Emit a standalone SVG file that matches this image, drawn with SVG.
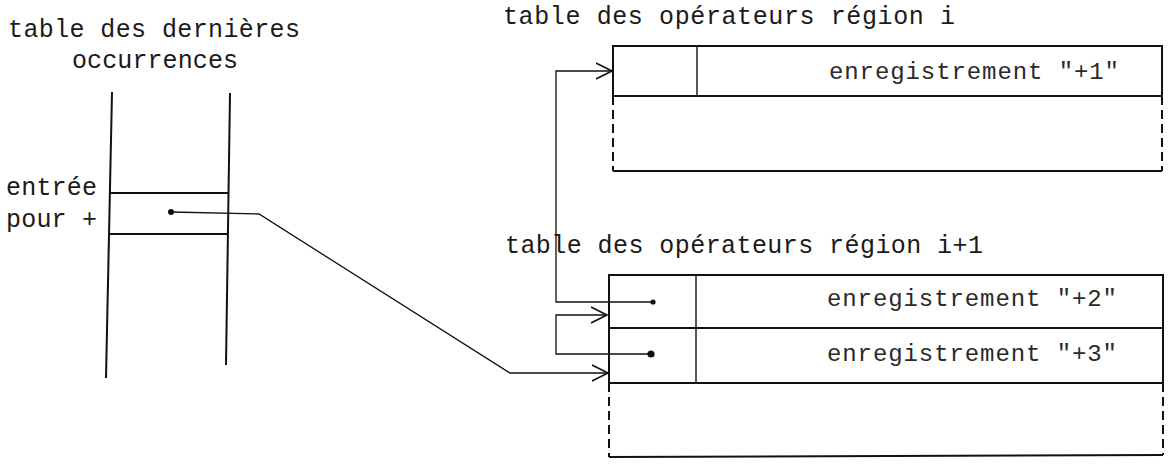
<svg xmlns="http://www.w3.org/2000/svg" width="1170" height="465" viewBox="0 0 1170 465">
<defs>
<style>
text{font-family:"Liberation Mono","DejaVu Sans Mono",monospace;font-size:25px;fill:#1a1a1a}
.rec{font-family:"Liberation Mono","DejaVu Sans Mono",monospace;font-size:24px;fill:#2a2a2a}
.box{fill:none;stroke:#111;stroke-width:2}
.thin{fill:none;stroke:#111;stroke-width:1.4}
.dash{fill:none;stroke:#111;stroke-width:2;stroke-dasharray:9 5}
.conn{fill:none;stroke:#111;stroke-width:1.3}
.dot{fill:#111}
</style>
<marker id="arr" viewBox="0 0 20 20" refX="16" refY="10" markerWidth="20" markerHeight="20" markerUnits="userSpaceOnUse" orient="auto">
<path d="M0,2 L16,10 L0,18" fill="none" stroke="#111" stroke-width="1.6"/>
</marker>
</defs>
<rect width="1170" height="465" fill="#fff"/>

<g id="last-occurrences-table">
<text x="8" y="37" textLength="292">table des dernières</text>
<text x="72" y="68" textLength="166">occurrences</text>
<line class="box" x1="112" y1="92" x2="106" y2="378"/>
<line class="box" x1="230" y1="93" x2="226" y2="365"/>
<line class="box" x1="110" y1="193" x2="229" y2="193"/>
<line class="box" x1="109" y1="234" x2="228" y2="234"/>
<text x="6" y="195" textLength="91">entrée</text>
<text x="6" y="227" textLength="91">pour +</text>
</g>

<g id="operators-region-i">
<text x="503" y="24" textLength="452">table des opérateurs région i</text>
<rect class="box" x="613" y="46" width="549" height="50"/>
<line class="thin" x1="697" y1="46" x2="697" y2="96"/>
<text class="rec" x="829" y="79" textLength="290">enregistrement "+1"</text>
<line class="dash" x1="613" y1="96" x2="613" y2="171"/>
<line class="dash" x1="1162" y1="96" x2="1162" y2="171"/>
<line class="box" x1="613" y1="171" x2="1162" y2="171"/>
</g>

<g id="operators-region-i1">
<text x="505" y="253" textLength="478">table des opérateurs région i+1</text>
<rect class="box" x="609" y="275" width="554" height="108"/>
<line class="box" x1="609" y1="328" x2="1163" y2="328"/>
<line class="thin" x1="696" y1="275" x2="696" y2="383"/>
<text class="rec" x="827" y="306" textLength="290">enregistrement "+2"</text>
<text class="rec" x="827" y="361" textLength="290">enregistrement "+3"</text>
<line class="dash" x1="609" y1="383" x2="609" y2="457"/>
<line class="dash" x1="1163" y1="383" x2="1163" y2="455"/>
<line class="box" x1="609" y1="457" x2="1163" y2="455"/>
</g>

<g id="connectors">
<circle class="dot" cx="171" cy="212" r="3"/>
<path class="conn" d="M171,212 L259,214 L510,373 L608,373" marker-end="url(#arr)"/>
<circle class="dot" cx="653" cy="302" r="2.6"/>
<path class="conn" d="M653,302 H556 V71 H612" marker-end="url(#arr)"/>
<circle class="dot" cx="651" cy="354" r="3.6"/>
<path class="conn" d="M651,354 H556 V315 H607" marker-end="url(#arr)"/>
</g>
</svg>
